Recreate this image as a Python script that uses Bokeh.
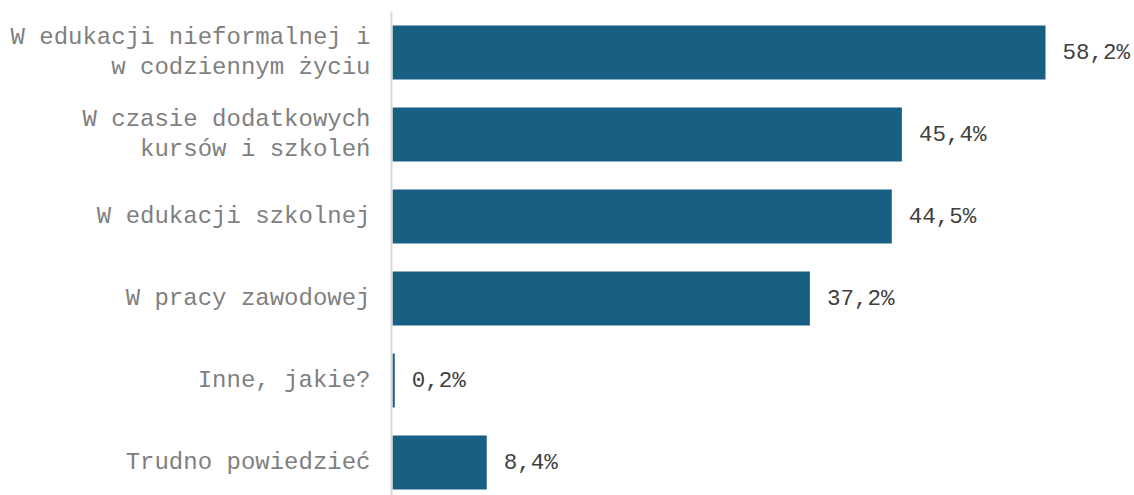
from bokeh.plotting import figure
from bokeh.models import Range1d, ColumnDataSource
from bokeh.core.properties import value
from bokeh.embed import file_html
from bokeh.resources import INLINE

categories = [
    "W edukacji nieformalnej i\nw codziennym życiu",
    "W czasie dodatkowych\nkursów i szkoleń",
    "W edukacji szkolnej",
    "W pracy zawodowej",
    "Inne, jakie?",
    "Trudno powiedzieć",
]
values = [58.2, 45.4, 44.5, 37.2, 0.2, 8.4]
value_labels = ["58,2%", "45,4%", "44,5%", "37,2%", "0,2%", "8,4%"]

W, H = 1134, 495
px_per_unit = 653 / 58.2
zero_px = 392
band_px = 82
first_center_px = 52

x_start = -zero_px / px_per_unit
x_end = (W - zero_px) / px_per_unit
y_top = -first_center_px / band_px
y_bottom = (H - first_center_px) / band_px

pos = list(range(len(categories)))
src = ColumnDataSource(dict(y=pos, v=values, cat=categories, lab=value_labels,
                            zero=[0] * len(pos)))

p = figure(width=W, height=H, output_backend="svg", toolbar_location=None,
           x_range=Range1d(x_start, x_end), y_range=Range1d(y_bottom, y_top),
           min_border=0)
p.outline_line_color = None
p.xgrid.visible = False
p.ygrid.visible = False
p.xaxis.visible = False
p.yaxis.visible = False
p.background_fill_color = "white"
p.border_fill_color = "white"

p.hbar(y="y", left=0, right="v", height=54 / 82, source=src,
       fill_color="#186083", line_color=None)

axis_x = -1 / px_per_unit
p.segment(x0=[axis_x], y0=[-0.5], x1=[axis_x], y1=[len(pos) - 0.3],
          line_color="#d9d9d9", line_width=2)

p.text(x="zero", y="y", text="cat", source=src, x_offset=-22,
       text_align="right", text_baseline="middle",
       text_font=value("Liberation Mono"), text_font_size="24px",
       text_color="#7f7f7f", text_line_height=1.12)

p.text(x="v", y="y", text="lab", source=src, x_offset=17,
       text_align="left", text_baseline="middle",
       text_font=value("Liberation Mono"), text_font_size="22.5px",
       text_color="#404040")

open("out.html", "w").write(file_html(p, INLINE))
